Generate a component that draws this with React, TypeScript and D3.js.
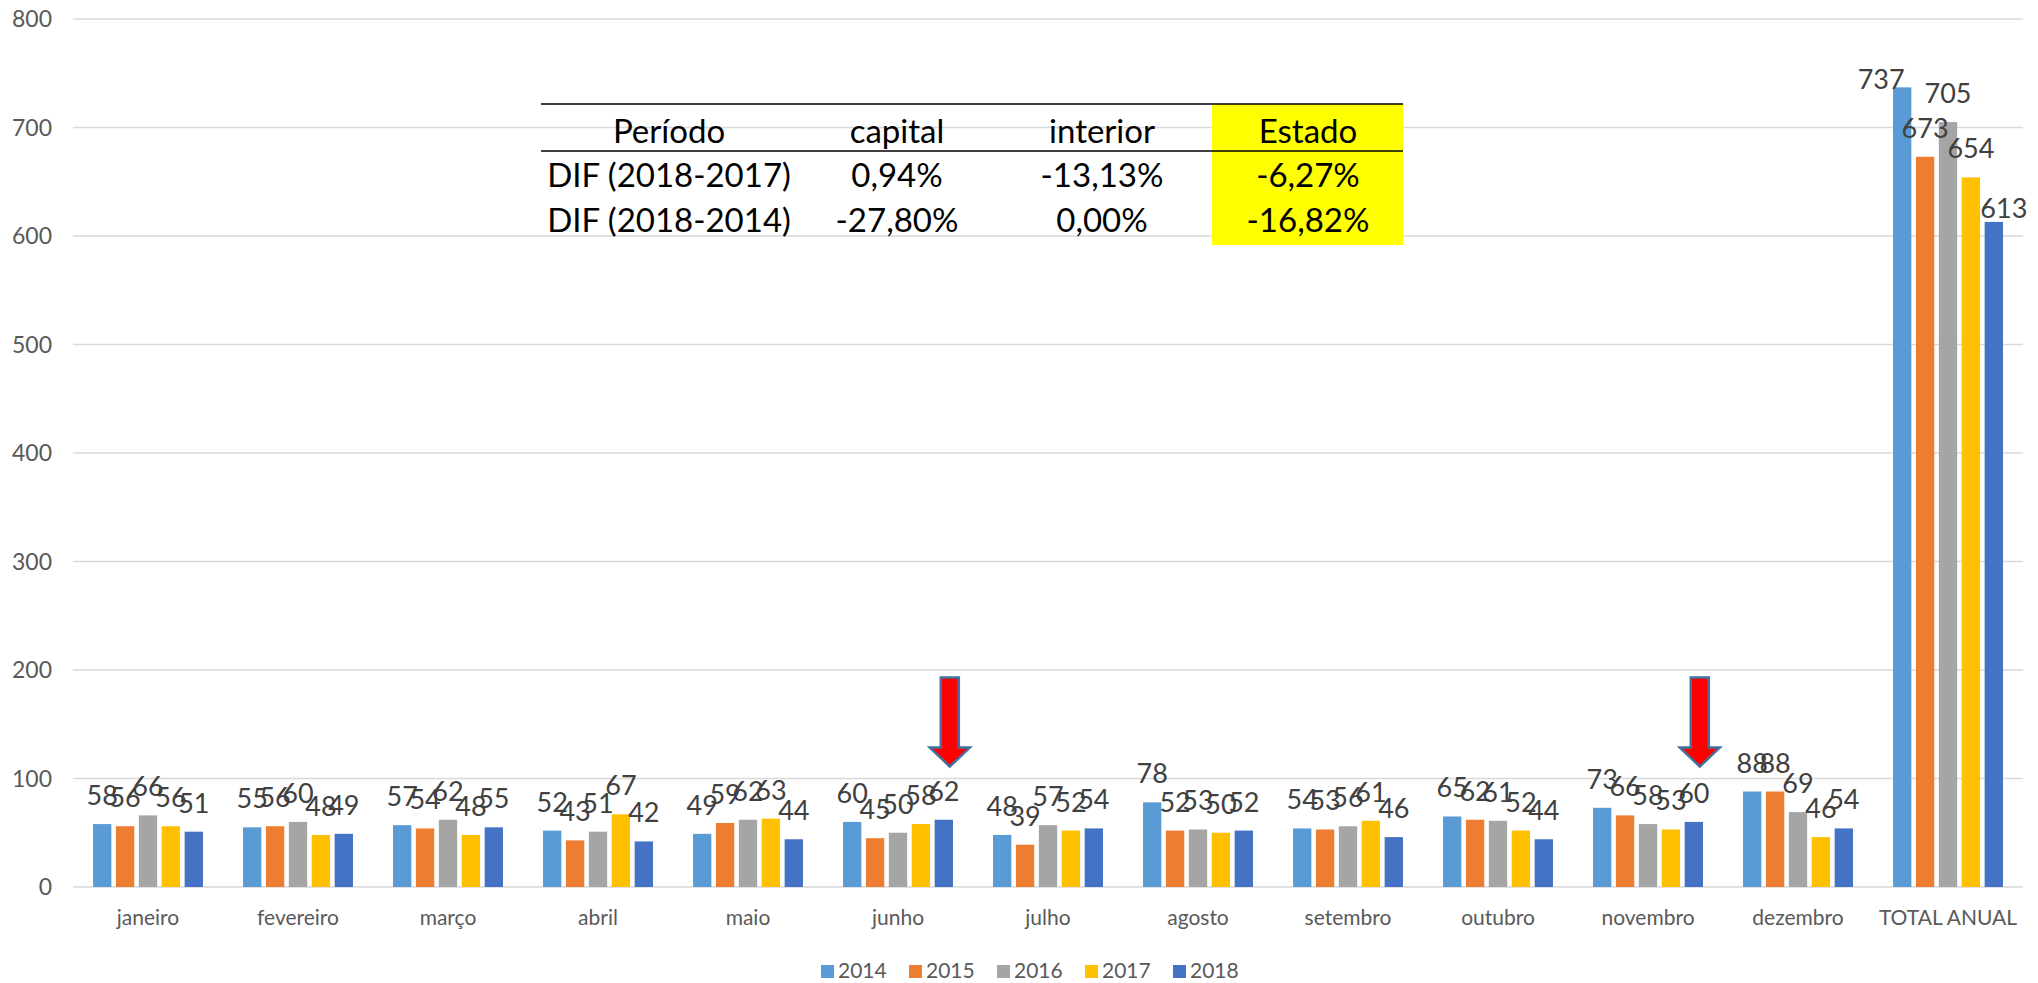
import React from 'react';
import * as d3 from 'd3';

const categories = ['janeiro', 'fevereiro', 'março', 'abril', 'maio', 'junho', 'julho', 'agosto', 'setembro', 'outubro', 'novembro', 'dezembro', 'TOTAL ANUAL'];
const years = ['2014', '2015', '2016', '2017', '2018'];
const s2014 = [58, 55, 57, 52, 49, 60, 48, 78, 54, 65, 73, 88, 737];
const s2015 = [56, 56, 54, 43, 59, 45, 39, 52, 53, 62, 66, 88, 673];
const s2016 = [66, 60, 62, 51, 62, 50, 57, 53, 56, 61, 58, 69, 705];
const s2017 = [56, 48, 48, 67, 63, 58, 52, 50, 61, 52, 53, 46, 654];
const s2018 = [51, 49, 55, 42, 44, 62, 54, 52, 46, 44, 60, 54, 613];
const yTicks = [0, 100, 200, 300, 400, 500, 600, 700, 800];
const colours = ['#5B9BD5', '#ED7D31', '#A5A5A5', '#FFC000', '#4472C4'];

const tableHeader = ['Período', 'capital', 'interior', 'Estado'];
const tableRows = [
  ['DIF (2018-2017)', '0,94%', '-13,13%', '-6,27%'],
  ['DIF (2018-2014)', '-27,80%', '0,00%', '-16,82%'],
];

// arrows point at the 2018 bar of these months (value range of the arrow)
const arrowMonths = ['junho', 'novembro'];
const arrowTop = 193;
const arrowTip = 111;

const W = 2038;
const H = 983;
const FONT = 'Lato, "Open Sans", sans-serif';

const App = () => {
  const series = [s2014, s2015, s2016, s2017, s2018];

  const x0 = d3.scaleBand().domain(categories).range([73, 2023]).paddingInner(0.267).paddingOuter(0.1335);
  const x1 = d3.scaleBand().domain(years).range([0, x0.bandwidth()]).paddingInner(0.2);
  const y = d3.scaleLinear().domain([0, 800]).range([887, 19]);

  // a couple of labels were dragged in the original
  const nudge = (yi, ci) => {
    if (ci === 12 && yi === 0) return [-21, 21];
    if (ci === 12 && yi === 4) return [10, 15];
    return [0, 0];
  };

  const colX = [669, 897, 1102, 1308];
  const tableLeft = 541, tableRight = 1403;
  const rowBase = [143, 187, 232];

  return (
    <svg width={W} height={H} style={{ position: 'absolute', left: 0, top: 0, display: 'block', background: '#fff' }} fontFamily={FONT}>
      {/* gridlines + y labels */}
      {yTicks.map(t => (
        <g key={t}>
          <line x1={73} x2={2023} y1={y(t)} y2={y(t)} stroke="#D9D9D9" strokeWidth={1.5} />
          <text x={52} y={y(t)} dy="0.35em" textAnchor="end" fontSize={23} fill="#595959">{t}</text>
        </g>
      ))}

      {/* bars */}
      {categories.map((c, ci) => (
        <g key={c} transform={`translate(${x0(c)},0)`}>
          {years.map((yr, yi) => {
            const v = series[yi][ci];
            return (
              <rect key={yr} x={x1(yr)} y={y(v)} width={x1.bandwidth()} height={y(0) - y(v)} fill={colours[yi]} />
            );
          })}
        </g>
      ))}

      {/* data labels */}
      {categories.map((c, ci) => (
        <g key={c + '-lbl'}>
          {years.map((yr, yi) => {
            const v = series[yi][ci];
            const [dx, dy] = nudge(yi, ci);
            return (
              <text key={yr} x={x0(c) + x1(yr) + x1.bandwidth() / 2 + dx} y={y(v) - 19 + dy}
                textAnchor="middle" fontSize={27} fill="#404040">{v}</text>
            );
          })}
        </g>
      ))}

      {/* category labels */}
      {categories.map(c => (
        <text key={c + '-cat'} x={x0(c) + x0.bandwidth() / 2} y={925} textAnchor="middle" fontSize={21} fill="#595959">{c}</text>
      ))}

      {/* arrows */}
      {arrowMonths.map(m => {
        const cx = x0(m) + x1('2018') + x1.bandwidth() / 2 + 6;
        const top = y(arrowTop), tip = y(arrowTip), headY = tip - 19;
        const pts = [
          [cx - 9, top], [cx + 9, top], [cx + 9, headY], [cx + 20, headY],
          [cx, tip], [cx - 20, headY], [cx - 9, headY],
        ];
        return <polygon key={m} points={pts.map(p => p.join(',')).join(' ')} fill="#FF0000" stroke="#41719C" strokeWidth={2.5} strokeLinejoin="miter" />;
      })}

      {/* table */}
      <rect x={1212} y={104} width={tableRight - 1212} height={141} fill="#FFFF00" />
      <line x1={tableLeft} x2={tableRight} y1={104} y2={104} stroke="#000" strokeWidth={1.5} />
      <line x1={tableLeft} x2={tableRight} y1={151} y2={151} stroke="#000" strokeWidth={1.5} />
      {tableHeader.map((h, i) => (
        <text key={h} x={colX[i]} y={rowBase[0]} textAnchor="middle" fontSize={33} fill="#000">{h}</text>
      ))}
      {tableRows.map((row, ri) => row.map((cell, i) => (
        <text key={ri + '-' + i} x={colX[i]} y={rowBase[ri + 1]} textAnchor="middle" fontSize={33} fill="#000">{cell}</text>
      )))}

      {/* legend */}
      {years.map((yr, i) => (
        <g key={yr + '-leg'} transform={`translate(${821 + i * 88},965)`}>
          <rect width={13} height={13} fill={colours[i]} />
          <text x={17} y={13} fontSize={21} fill="#595959">{yr}</text>
        </g>
      ))}
    </svg>
  );
};

export default App;
